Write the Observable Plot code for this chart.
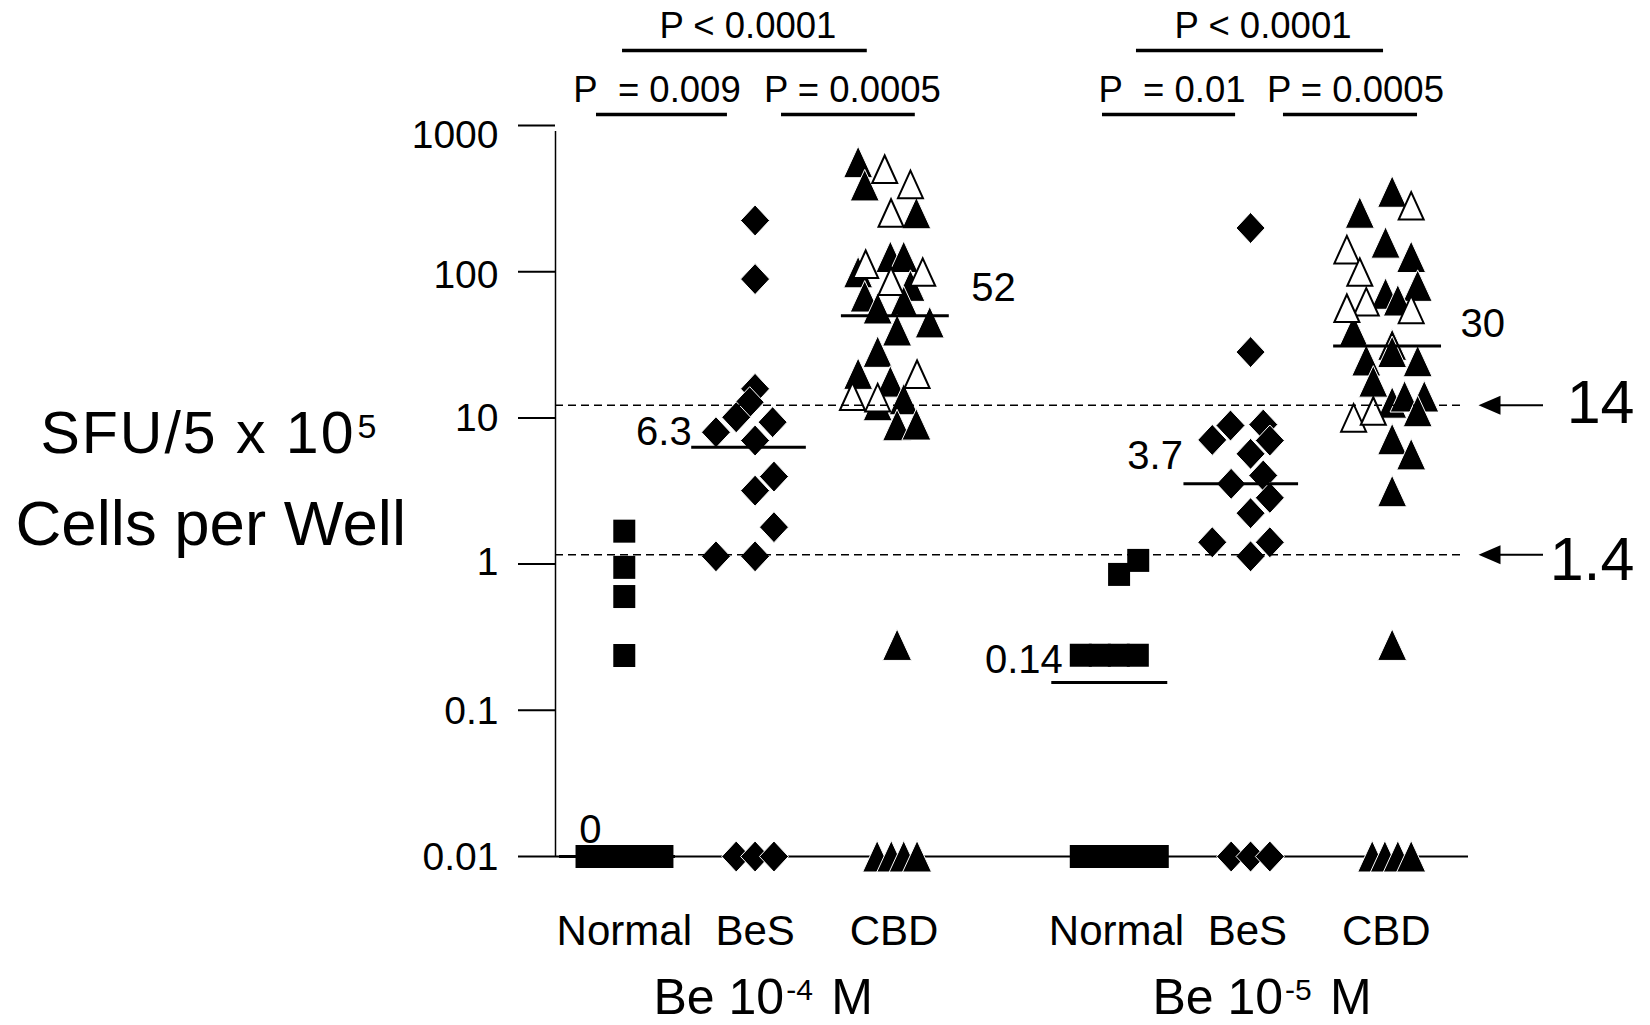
<!DOCTYPE html>
<html>
<head>
<meta charset="utf-8">
<script src="https://cdn.jsdelivr.net/npm/d3@7"></script>
<script src="https://cdn.jsdelivr.net/npm/@observablehq/plot@0.6"></script>
<style>
  html, body { margin: 0; padding: 0; background: #ffffff; }
  #chart svg { display: block; }
</style>
</head>
<body>
<div id="chart"></div>
<script>
// ------------------------------------------------------------------
// DATA (0 = no spots, drawn on the 0.01 floor)
// ------------------------------------------------------------------
const categories = ["Normal", "BeS", "CBD"];
const groupBase = ["Be 10", "Be 10"];
const groupExponent = ["-4", "-5"];
const groupUnit = ["M", "M"];

const yTicks = [0.01, 0.1, 1, 10, 100, 1000];
const yTickLabels = ["0.01", "0.1", "1", "10", "100", "1000"];

// Be 10^-4 M
const normal4       = [1.68, 0.95, 0.60, 0.237, 0, 0, 0, 0, 0];
const normal4Jitter = [0, 0, 0, 0, -0.28, -0.14, 0, 0.14, 0.283];
const bes4          = [224, 89, 15.8, 12.8, 10.1, 9.35, 7.98, 7.0, 3.97, 3.18, 1.79, 1.13, 1.13, 0, 0, 0];
const bes4Jitter    = [0, 0, 0, -0.04, -0.14, 0.13, -0.29, 0, 0.14, 0, 0.14, -0.29, 0, -0.14, 0, 0.14];
const cbd4          = [561, 500, 389, 394, 251, 251, 112, 99, 126, 126, 99, 85.7, 80, 67.6, 56, 62, 45, 39.6, 28.3, 20, 19.8, 17.7, 14, 13.7, 12.2, 13.4, 8.9, 9.0, 0.28, 0, 0, 0, 0];
const cbd4Jitter    = [-0.266, -0.069, -0.217, 0.122, -0.022, 0.166, -0.21, -0.266, -0.027, 0.072, 0.213, -0.022, 0.122, -0.217, -0.121, 0.072, 0.265, 0.023, -0.121, -0.266, 0.171, -0.027, -0.308, -0.121, -0.121, 0.072, 0.023, 0.166, 0.023, -0.125, -0.02, 0.072, 0.171];
const cbd4Open      = [0,1,0,1,1,0,1,0,0,0, 1,1,0,0,0,0,0,0,0,0, 1,0,1,1,0,0,0,0,0, 0,0,0,0];

// Be 10^-5 M
const normal5       = [0.85, 1.06, 0.238, 0.238, 0.238, 0.238, 0, 0, 0, 0, 0];
const normal5Jitter = [0.019, 0.161, -0.265, -0.124, 0.017, 0.158, -0.265, -0.122, 0.02, 0.163, 0.306];
const bes5          = [199, 28.2, 8.87, 9.0, 7.07, 7.0, 5.68, 4.04, 3.54, 2.84, 2.23, 1.41, 1.41, 1.13, 0, 0, 0];
const bes5Jitter    = [0.024, 0.024, -0.125, 0.118, -0.26, 0.167, 0.024, 0.118, -0.12, 0.167, 0.024, -0.26, 0.167, 0.024, -0.12, 0.024, 0.167];
const cbd5          = [352, 281, 253, 158, 141, 126, 99, 80, 70.6, 63.5, 62, 56, 55, 39.2, 31.6, 28.2, 24.7, 24.4, 17.7, 12.7, 14, 14, 11.1, 9.96, 11.1, 7.14, 5.63, 3.15, 0.28, 0, 0, 0, 0];
const cbd5Jitter    = [0.044, 0.185, -0.196, -0.005, -0.292, 0.185, -0.196, 0.233, -0.005, 0.086, -0.148, -0.292, 0.185, -0.242, 0.044, 0.044, -0.148, 0.233, -0.096, 0.044, 0.136, 0.282, 0.233, -0.242, -0.096, 0.044, 0.185, 0.044, 0.044, -0.104, -0.01, 0.086, 0.185];
const cbd5Open      = [0,1,0,0,1,0,1,0,0,0, 1,1,1,0,0,0,0,0,0,0, 0,0,0,1,1,0,0,0,0, 0,0,0,0];

// medians (group 0: Normal, BeS, CBD; group 1: Normal, BeS, CBD)
const medianValues = [0, 6.3, 50, 0.155, 3.55, 31];
const medianLabels = ["0", "6.3", "52", "0.14", "3.7", "30"];

// threshold lines
const thresholdValues = [12.2, 1.16];
const thresholdLabels = ["14", "1.4"];

// p-value comparisons
const pGroup  = [0, 0, 0, 1, 1, 1];
const pFrom   = ["Normal", "Normal", "BeS", "Normal", "Normal", "BeS"];
const pTo     = ["CBD", "BeS", "CBD", "CBD", "BeS", "CBD"];
const pTier   = [0, 1, 1, 0, 1, 1];
const pLabels = ["P < 0.0001", "P\u00a0 = 0.009", "P = 0.0005", "P < 0.0001", "P\u00a0 = 0.01", "P = 0.0005"];

const yTitle1 = "SFU/5 x 10";
const yTitleSup = "5";
const yTitle2 = "Cells per Well";

// ------------------------------------------------------------------
// LAYOUT
// ------------------------------------------------------------------
const FONT = "'Liberation Sans', Arial, Helvetica, sans-serif";
const X0 = -0.51, X1 = 6.26, PX0 = 555, PX1 = 1468;
const unit = (PX1 - PX0) / (X1 - X0);
const atPx = (p) => X0 + (p - PX0) / unit;     // annotation helper
const catPos = {Normal: 0, BeS: 0.97, CBD: 2};
const groupShift = 3.65;
const xOf = (g, cat) => g * groupShift + catPos[cat];
const FLOOR = 0.01;

function pts(values, jitter, g, cat, open) {
  return values.map((v, i) => ({
    value: v, group: g, cat,
    x: xOf(g, cat) + jitter[i],
    y: v === 0 ? FLOOR : v,
    open: open ? !!open[i] : false
  }));
}
const squares = [...pts(normal4, normal4Jitter, 0, "Normal"), ...pts(normal5, normal5Jitter, 1, "Normal")];
const diamonds = [...pts(bes4, bes4Jitter, 0, "BeS"), ...pts(bes5, bes5Jitter, 1, "BeS")];
const triangles = [...pts(cbd4, cbd4Jitter, 0, "CBD", cbd4Open), ...pts(cbd5, cbd5Jitter, 1, "CBD", cbd5Open)];

// symbols
const symSquare = {draw(c) { c.moveTo(-11, -11.5); c.lineTo(11, -11.5); c.lineTo(11, 11.5); c.lineTo(-11, 11.5); c.closePath(); }};
const symDiamond = {draw(c) { c.moveTo(0, -15.5); c.lineTo(14.5, 0); c.lineTo(0, 15.5); c.lineTo(-14.5, 0); c.closePath(); }};
const symTri = {draw(c) { c.moveTo(0, -16); c.lineTo(14.5, 15.5); c.lineTo(-14.5, 15.5); c.closePath(); }};
const symTriOpen = {draw(c) { c.moveTo(0, -14); c.lineTo(12.5, 13.5); c.lineTo(-12.5, 13.5); c.closePath(); }};
const symArrow = {draw(c) { c.moveTo(0, 0); c.lineTo(22, -9.5); c.lineTo(22, 9.5); c.closePath(); }};

// y tick label nudges (the reference labels sit slightly below the upper ticks)
const tickLabelDy = [1, 1, -2, 1, 4, 10];

// medians
const medianSpan = {Normal: [-0.48, 0.38], BeS: [-0.47, 0.38], CBD: [-0.39, 0.41]};
const medianRows = medianValues.map((v, i) => {
  const g = Math.floor(i / 3), cat = categories[i % 3];
  const c = xOf(g, cat);
  return {y: v === 0 ? FLOOR : v, x1: c + medianSpan[cat][0], x2: c + medianSpan[cat][1], cx: c, label: medianLabels[i]};
});
const medianLabelLayout = [
  {anchor: "middle", at: "cx", dx: -34, dy: -14},
  {anchor: "end", at: "x1", dx: 0, dy: -2},
  {anchor: "start", at: "x2", dx: 22, dy: -15},
  {anchor: "end", at: "x1", dx: 11, dy: -9},
  {anchor: "end", at: "x1", dx: -1, dy: -15},
  {anchor: "start", at: "x2", dx: 19, dy: -9}
];

// brackets
const bracketNudge = [[-0.013, -0.198], [-0.206, -0.205], [0.196, 0.158], [0.148, -0.02], [-0.104, -0.087], [0.268, 0.232]];
const bracketTextDx = [3, -5, 4, 3, 3, 5];
const brackets = pLabels.map((lab, i) => {
  const x1 = xOf(pGroup[i], pFrom[i]) + bracketNudge[i][0];
  const x2 = xOf(pGroup[i], pTo[i]) + bracketNudge[i][1];
  return {x1, x2, cx: (x1 + x2) / 2, label: lab, tier: pTier[i], i};
});

// category & group labels
const catLabels = [];
[0, 1].forEach((g) => categories.forEach((c) => catLabels.push({x: xOf(g, c), label: c})));
const groupLabelShift = [0, 0.05];
const groupLabels = [0, 1].map((g) => ({x: (xOf(g, "Normal") + xOf(g, "CBD")) / 2 + groupLabelShift[g], base: groupBase[g], exp: groupExponent[g], unit: groupUnit[g]}));

const thresholds = thresholdValues.map((v, i) => ({y: v, label: thresholdLabels[i]}));

// ------------------------------------------------------------------
// PLOT
// ------------------------------------------------------------------
const marks = [
  // baseline, y axis line and ticks
  Plot.ruleY([FLOOR], {x1: X0, x2: X1, stroke: "black", strokeWidth: 2}),
  Plot.ruleX([X0], {y1: FLOOR, y2: 1000, stroke: "black", strokeWidth: 1.5, insetBottom: -6}),
  Plot.ruleY(yTicks, {x1: atPx(518), x2: X0, stroke: "black", strokeWidth: 2}),
  ...yTicks.map((t, i) => Plot.text([t], {x: atPx(498), y: (d) => d, text: () => yTickLabels[i], textAnchor: "end",
    dy: tickLabelDy[i], fontSize: 39, fontFamily: FONT, fill: "black"})),

  // data points
  Plot.dot(squares, {x: "x", y: "y", r: 8, symbol: symSquare, fill: "black"}),
  Plot.dot(diamonds, {x: "x", y: "y", r: 8, symbol: symDiamond, fill: "black", stroke: "white", strokeWidth: 1}),
  Plot.dot(triangles.filter((d) => !d.open), {x: "x", y: "y", r: 8, symbol: symTri, fill: "black", stroke: "white", strokeWidth: 1}),
  Plot.dot(triangles.filter((d) => d.open), {x: "x", y: "y", r: 8, symbol: symTriOpen, fill: "white", stroke: "black", strokeWidth: 2}),

  // threshold dashed lines with arrows
  Plot.ruleY(thresholds, {y: "y", x1: X0, x2: atPx(1463), stroke: "black", strokeWidth: 1.5, strokeDasharray: "8,5"}),
  Plot.ruleY(thresholds, {y: "y", x1: atPx(1498), x2: atPx(1543), stroke: "black", strokeWidth: 2}),
  Plot.dot(thresholds, {x: atPx(1478), y: "y", r: 8, symbol: symArrow, fill: "black"}),
  Plot.text(thresholds.slice(0, 1), {x: atPx(1634), y: "y", text: "label", textAnchor: "end", lineAnchor: "bottom", dy: 18, fontSize: 61, fontFamily: FONT, fill: "black"}),
  Plot.text(thresholds.slice(1, 2), {x: atPx(1634), y: "y", text: "label", textAnchor: "end", lineAnchor: "bottom", dy: 25, fontSize: 61, fontFamily: FONT, fill: "black"}),

  // medians
  Plot.ruleY(medianRows, {y: "y", x1: "x1", x2: "x2", stroke: "black", strokeWidth: 3}),
  ...medianRows.map((m, i) => {
    const L = medianLabelLayout[i];
    return Plot.text([m], {x: L.at, y: "y", text: "label", textAnchor: L.anchor, lineAnchor: "bottom",
      dx: L.dx, dy: L.dy, fontSize: 40, fontFamily: FONT, fill: "black"});
  }),

  // p-value brackets
  ...brackets.map((b) => Plot.ruleY([b], {y: () => 1000, x1: "x1", x2: "x2", dy: b.tier === 0 ? -75 : -11, stroke: "black", strokeWidth: 3.5})),
  ...brackets.map((b) => Plot.text([b], {x: "cx", y: () => 1000, text: "label", textAnchor: "middle", lineAnchor: "bottom",
    dx: bracketTextDx[b.i], dy: b.tier === 0 ? -88 : -24, fontSize: 36.5, fontFamily: FONT, fill: "black"})),

  // category labels
  Plot.text(catLabels, {x: "x", text: "label", frameAnchor: "top", lineAnchor: "bottom", dy: 944, fontSize: 42, fontFamily: FONT, fill: "black"}),
  // group labels (Be 10^-4 M, Be 10^-5 M)
  Plot.text(groupLabels, {x: "x", text: "base", frameAnchor: "top", lineAnchor: "bottom", textAnchor: "end", dx: 25, dy: 1013, fontSize: 50, fontFamily: FONT, fill: "black"}),
  Plot.text(groupLabels, {x: "x", text: "exp", frameAnchor: "top", lineAnchor: "bottom", textAnchor: "start", dx: 27, dy: 999, fontSize: 30, fontFamily: FONT, fill: "black"}),
  Plot.text(groupLabels, {x: "x", text: "unit", frameAnchor: "top", lineAnchor: "bottom", textAnchor: "start", dx: 72, dy: 1013, fontSize: 50, fontFamily: FONT, fill: "black"}),

  // y-axis title
  Plot.text([yTitle1], {frameAnchor: "top-left", textAnchor: "start", lineAnchor: "bottom", dx: 40 - PX0, dy: 452, fontSize: 59, fontFamily: FONT, fill: "black"}),
  Plot.text([yTitleSup], {frameAnchor: "top-left", textAnchor: "start", lineAnchor: "bottom", dx: 357 - PX0, dy: 437, fontSize: 34, fontFamily: FONT, fill: "black"}),
  Plot.text([yTitle2], {frameAnchor: "top-left", textAnchor: "start", lineAnchor: "bottom", dx: 15 - PX0, dy: 544, fontSize: 63.5, fontFamily: FONT, fill: "black"})
];

const chart = Plot.plot({
  width: 1650,
  height: 1025,
  marginLeft: PX0, marginTop: 0, marginRight: 0, marginBottom: 0,
  style: {fontFamily: FONT, background: "white", color: "black", overflow: "visible"},
  x: {type: "linear", domain: [X0, X1], range: [PX0, PX1], axis: null},
  y: {type: "log", domain: [0.01, 1000], range: [856, 125], axis: null},
  marks
});
// stretch the first title line to the reference's wider letter spacing
d3.select(chart).selectAll("text")
  .filter(function () { return this.textContent === yTitle1; })
  .attr("textLength", 313).attr("lengthAdjust", "spacing");
document.getElementById("chart").appendChild(chart);
</script>
</body>
</html>
